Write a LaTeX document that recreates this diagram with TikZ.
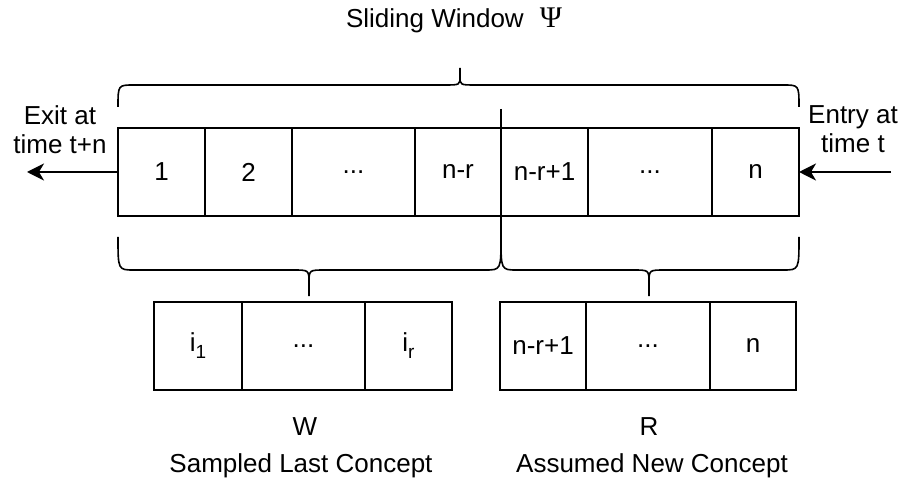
\documentclass[tikz,border=0pt]{standalone}
\usepackage{fontspec}
\setmainfont{Liberation Sans}
\newfontfamily\psifont{Liberation Serif}
\usetikzlibrary{arrows.meta}
\tikzset{
  cell/.style={draw, line width=1.6pt, minimum height=88pt, inner sep=0pt, outer sep=0pt},
  lbl/.style={align=center, inner sep=0pt},
  brc/.style={line width=1.6pt},
  flow/.style={line width=1.6pt, -{Stealth[length=17pt, width=17pt, inset=5pt]}}
}
\newcommand{\curlybrace}[6]{%
  \draw[brc] (#1,#4) .. controls (#1,#5) .. (#1+16,#5) -- (#3-16,#5) .. controls (#3,#5) .. (#3,{(#5+#6)/2}) -- (#3,#6);
  \draw[brc] (#2,#4) .. controls (#2,#5) .. (#2-16,#5) -- (#3+16,#5) .. controls (#3,#5) .. (#3,{(#5+#6)/2});
}
\newcommand{\idx}[1]{i\raisebox{-7pt}{\fontsize{19}{20}\selectfont #1}}
\begin{document}
\begin{tikzpicture}[x=1pt, y=-1pt, font=\fontsize{26}{29}\selectfont]
\useasboundingbox (0,0) rectangle (899,478);
\node[lbl, anchor=base] (title) at (454,28) {Sliding Window\hskip 16pt{\psifont\fontsize{30}{30}\selectfont Ψ}};
\curlybrace{118}{799}{460}{107}{85}{68}
\node[cell, minimum width=87pt] (w1) at (161.5,172) {1};
\node[cell, minimum width=87pt] (w2) at (248.5,172) {2};
\node[cell, minimum width=123pt] (w3) at (353.5,172) {...};
\node[cell, minimum width=86pt] (w4) at (458,172) {n-r};
\node[cell, minimum width=87pt] (w5) at (544.5,172) {n-r+1};
\node[cell, minimum width=124pt] (w6) at (650,172) {...};
\node[cell, minimum width=87pt] (w7) at (755.5,172) {n};
\coordinate (divtop) at (501,109);
\coordinate (divbot) at (501,250);
\draw[brc] (divtop) -- (divbot);
\coordinate (exit) at (27,172);
\coordinate (entry) at (891,172);
\draw[flow] (w1.west) -- (exit);
\draw[flow] (entry) -- (w7.east);
\node[lbl, anchor=north] (exitlbl) at (60,105) {Exit at\\time t+n};
\node[lbl, anchor=north] (entrylbl) at (853,105) {Entry at\\time t};
\curlybrace{118}{501}{309}{237}{270}{296}
\curlybrace{501}{799}{649}{237}{270}{296}
\node[cell, minimum width=88pt] (s1) at (198,346) {\idx{1}};
\node[cell, minimum width=123pt] (s2) at (303.5,346) {...};
\node[cell, minimum width=87pt] (s3) at (408.5,346) {\idx{r}};
\node[cell, minimum width=86pt] (r1) at (543,346) {n-r+1};
\node[cell, minimum width=124pt] (r2) at (648,346) {...};
\node[cell, minimum width=86pt] (r3) at (753,346) {n};
\node[lbl] (wlbl) at (305,427) {W};
\node[lbl] (rlbl) at (649,427) {R};
\node[lbl, anchor=base] (wtext) at (301,472) {Sampled Last Concept};
\node[lbl, anchor=base] (rtext) at (652,472) {Assumed New Concept};
\end{tikzpicture}
\end{document}
